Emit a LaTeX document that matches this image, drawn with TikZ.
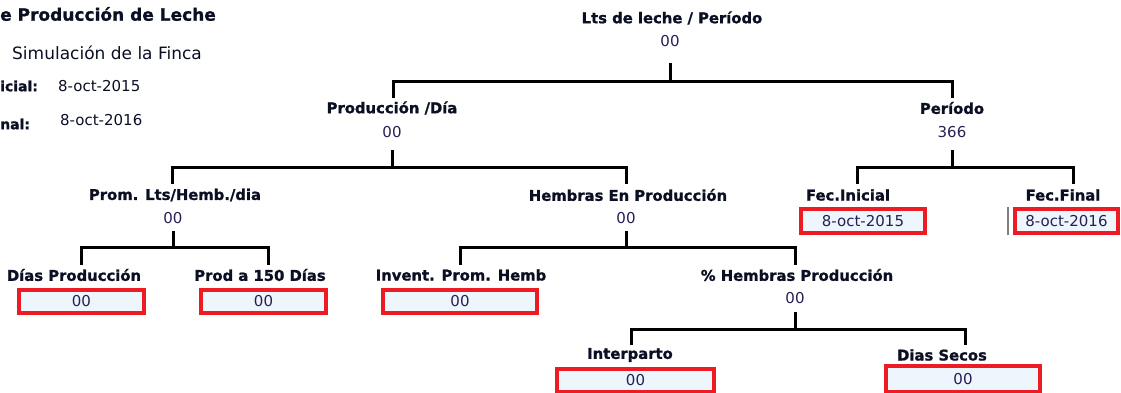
\documentclass[tikz,border=0pt]{standalone}
\usepackage{fontspec}
\setmainfont{DejaVu Sans}[BoldFeatures={FakeBold=1.2}]
\usepackage{tikz}
\usetikzlibrary{arrows,shapes}
\usetikzlibrary{positioning}
\definecolor{boxred}{RGB}{237,28,36}
\definecolor{boxfill}{RGB}{237,245,253}
\definecolor{valtext}{RGB}{40,30,85}
\definecolor{labtext}{RGB}{10,15,35}
\tikzstyle{lab} = [font=\bfseries\fontsize{14.8}{16}\selectfont, text=labtext,
    inner sep=0pt]
\tikzstyle{val} = [font=\fontsize{15}{16}\selectfont, text=valtext, inner sep=0pt]
\tikzstyle{field} = [val, draw=boxred, line width=4pt, fill=boxfill,
    minimum height=23pt]
\tikzstyle{branch} = [draw, black, line width=3pt]

\begin{document}
\begin{tikzpicture}[x=1pt, y=1pt, node distance=23pt]
  \useasboundingbox (0,0) rectangle (1121,-393);
  % header
  \node [lab, anchor=west, font=\bfseries\fontsize{17}{19}\selectfont] (title) at (0,-14) {e Producción de Leche};
  \node [val, anchor=west, text=labtext, font=\fontsize{17}{19}\selectfont] (finca) at (12,-53) {Simulación de la Finca};
  \node [lab, anchor=west, font=\bfseries\fontsize{14}{16}\selectfont] (ini) at (0,-86) {icial:};
  \node [val, anchor=west, text=labtext] (inidate) at (58,-86) {8-oct-2015};
  \node [lab, anchor=west, font=\bfseries\fontsize{14}{16}\selectfont] (fin) at (0,-124) {nal:};
  \node [val, anchor=west, text=labtext] (findate) at (60,-120) {8-oct-2016};
  % tree
  \node [lab] (lts) at (672,-18) {Lts de leche / Período};
  \node [val, below of=lts, xshift=-2pt] (ltsv) {00};
  \node [lab] (prod) at (392,-108) {Producción /Día};
  \node [val, below of=prod, node distance=24pt] (prodv) {00};
  \node [lab] (per) at (952,-108) {Período};
  \node [val, below of=per, node distance=24pt] (perv) {366};
  \node [lab] (prom) at (175,-195) {Prom. Lts/Hemb./dia};
  \node [val] (promv) at (173,-218) {00};
  \node [lab] (hemb) at (628,-195) {Hembras En Producción};
  \node [val] (hembv) at (626,-218) {00};
  \node [lab] (fecini) at (848,-195) {Fec.Inicial};
  \node [field, minimum width=124pt, minimum height=24pt] (feciniv) at (863,-221) {8-oct-2015};
  \node [lab] (fecfin) at (1063,-195) {Fec.Final};
  \node [field, minimum width=103pt, minimum height=24pt] (fecfinv) at (1066.5,-221) {8-oct-2016};
  \node [lab] (dias) at (74,-275) {Días Producción};
  \node [field, minimum width=125pt] (diasv) at (81.5,-301.5) {00};
  \node [lab] (p150) at (260,-275) {Prod a 150 Días};
  \node [field, minimum width=125pt] (p150v) at (263.5,-301.5) {00};
  \node [lab] (inv) at (461,-275) {Invent. Prom. Hemb};
  \node [field, minimum width=154pt] (invv) at (460,-301.5) {00};
  \node [lab] (phemb) at (797,-275) {\% Hembras Producción};
  \node [val] (phembv) at (795,-298) {00};
  \node [lab] (inter) at (630,-355) {Interparto};
  \node [field, minimum width=157pt] (interv) at (635.5,-380.5) {00};
  \node [lab] (secos) at (942,-355) {Dias Secos};
  \node [field, minimum width=154pt, minimum height=26pt] (secosv) at (963,-379) {00};
  \draw [gray, line width=2.5pt] ([xshift=-5pt]fecfinv.north west) -- ([xshift=-5pt]fecfinv.south west);
  % drop points
  \coordinate (prodtop) at (393,-98);
  \coordinate (pertop) at (952,-98);
  \coordinate (promtop) at (172,-184);
  \coordinate (hembtop) at (626,-184);
  \coordinate (fecinitop) at (857,-184);
  \coordinate (fecfintop) at (1073,-184);
  \coordinate (diastop) at (81,-265);
  \coordinate (p150top) at (268,-265);
  \coordinate (invtop) at (460,-265);
  \coordinate (phembtop) at (795,-265);
  \coordinate (intertop) at (631,-345);
  \coordinate (secostop) at (965,-345);
  % branches
  \draw [branch] (ltsv) ++(0,-22) -- ++(0,-19) -| (prodtop);
  \draw [branch] (ltsv) ++(0,-22) -- ++(0,-19) -| (pertop);
  \draw [branch] (prodv) ++(0,-18) -- ++(0,-17) -| (promtop);
  \draw [branch] (prodv) ++(0,-18) -- ++(0,-17) -| (hembtop);
  \draw [branch] (perv) ++(0,-18) -- ++(0,-17) -| (fecinitop);
  \draw [branch] (perv) ++(0,-18) -- ++(0,-17) -| (fecfintop);
  \draw [branch] (promv) ++(0,-13) -- ++(0,-16) -| (diastop);
  \draw [branch] (promv) ++(0,-13) -- ++(0,-16) -| (p150top);
  \draw [branch] (hembv) ++(0,-13) -- ++(0,-16) -| (invtop);
  \draw [branch] (hembv) ++(0,-13) -- ++(0,-16) -| (phembtop);
  \draw [branch] (phembv) ++(0,-14) -- ++(0,-17) -| (intertop);
  \draw [branch] (phembv) ++(0,-14) -- ++(0,-17) -| (secostop);
\end{tikzpicture}
\end{document}
